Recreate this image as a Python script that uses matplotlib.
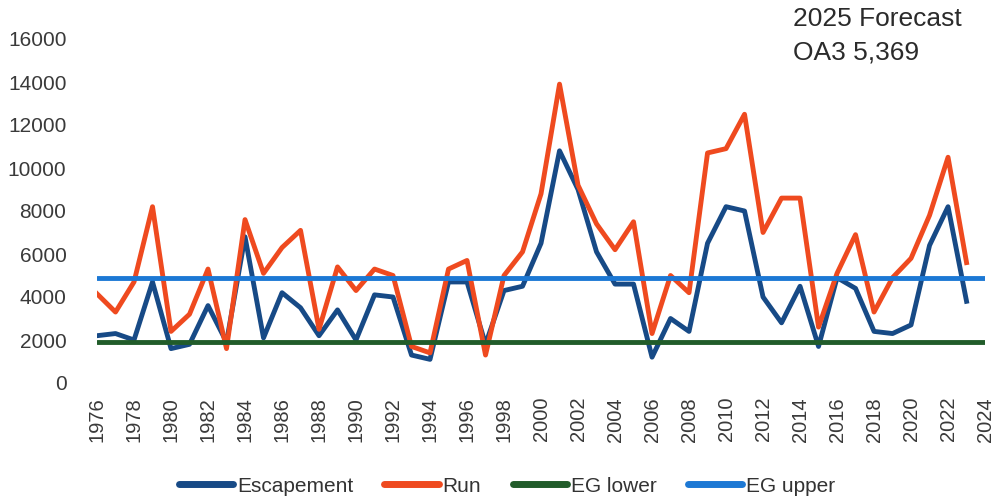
import matplotlib
matplotlib.use('Agg')
import matplotlib.pyplot as plt

years = list(range(1976, 2024))

escapement = [2200, 2300, 2000, 4700, 1600, 1800, 3600, 1900, 6800, 2100,
              4200, 3500, 2200, 3400, 2000, 4100, 4000, 1300, 1100, 4700,
              4700, 1800, 4300, 4500, 6500, 10800, 9000, 6100, 4600, 4600,
              1200, 3000, 2400, 6500, 8200, 8000, 4000, 2800, 4500, 1700,
              4900, 4400, 2400, 2300, 2700, 6400, 8200, 3800]

run = [4150, 3300, 4700, 8200, 2400, 3200, 5300, 1600, 7600, 5100,
       6300, 7100, 2500, 5400, 4300, 5300, 5000, 1700, 1400, 5300,
       5700, 1300, 5000, 6100, 8800, 13900, 9200, 7400, 6200, 7500,
       2300, 5000, 4200, 10700, 10900, 12500, 7000, 8600, 8600, 2600,
       5100, 6900, 3300, 4900, 5800, 7800, 10500, 5600]

eg_years = [1976, 2024]
eg_lower = [1900, 1900]
eg_upper = [4900, 4900]

xticks = list(range(1976, 2025, 2))
yticks = list(range(0, 16001, 2000))

plt.rcParams['font.family'] = ['Liberation Sans', 'DejaVu Sans']

fig = plt.figure(figsize=(9.96, 5.0), dpi=100)
ax = fig.add_axes([0.0974, 0.234, 0.8916, 0.688])

lw = 3.5
ax.plot(years, escapement, color='#174a86', lw=lw, label='Escapement')
ax.plot(years, run, color='#ef4a1f', lw=lw, label='Run')
ax.plot(eg_years, eg_lower, color='#215c2a', lw=lw, label='EG lower', solid_capstyle='round')
ax.plot(eg_years, eg_upper, color='#1c78d4', lw=lw, label='EG upper', solid_capstyle='round')

ax.set_xlim(1976, 2024)
ax.set_ylim(0, 16000)
ax.set_xticks(xticks)
ax.set_xticklabels([str(x) for x in xticks], rotation=90)
ax.set_yticks(yticks)
ax.tick_params(axis='x', length=0, pad=10, labelsize=14.5, labelcolor='#3a3a3a')
ax.tick_params(axis='y', length=0, pad=22, labelsize=15, labelcolor='#3a3a3a')
for s in ax.spines.values():
    s.set_visible(False)

# legend along the bottom
leg = fig.legend(loc='center', bbox_to_anchor=(0.509, 0.028), ncol=4, frameon=False,
                 fontsize=15, handlelength=2.6, handletextpad=0.2, columnspacing=1.5,
                 labelcolor='#333333')
for h in leg.get_lines():
    h.set_linewidth(5)
    h.set_solid_capstyle('round')

fig.text(0.796, 0.985, '2025 Forecast\nOA3 5,369', ha='left', va='top',
         fontsize=19, color='#2b2b2b', linespacing=1.45)

fig.savefig('out.png', dpi=100)
